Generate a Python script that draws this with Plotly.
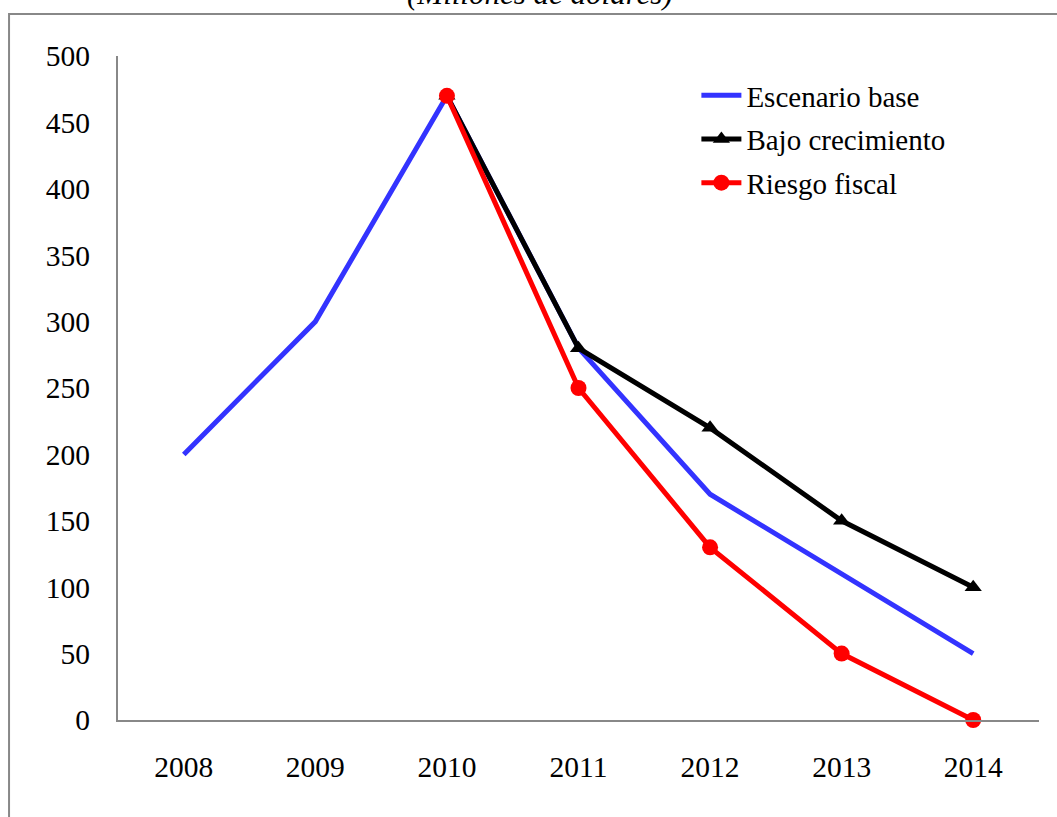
import plotly.graph_objects as go

years = ["2008", "2009", "2010", "2011", "2012", "2013", "2014"]
escenario_base = [200, 300, 470, 280, 170, 110, 50]
bajo_years = ["2010", "2011", "2012", "2013", "2014"]
bajo_crecimiento = [470, 280, 220, 150, 100]
riesgo_years = ["2010", "2011", "2012", "2013", "2014"]
riesgo_fiscal = [470, 250, 130, 50, 0]
y_ticks = [0, 50, 100, 150, 200, 250, 300, 350, 400, 450, 500]

FONT = "Liberation Serif, Times New Roman, serif"

fig = go.Figure()
fig.add_trace(go.Scatter(
    x=years, y=escenario_base, name="Escenario base", mode="lines",
    legendgroup="base",
    line=dict(color="#3333FF", width=5), cliponaxis=False))
fig.add_trace(go.Scatter(
    x=bajo_years, y=bajo_crecimiento, name="Bajo crecimiento", mode="lines+markers",
    legendgroup="bajo",
    line=dict(color="#000000", width=5),
    marker=dict(symbol="triangle-up", size=15, color="#000000"), cliponaxis=False))
fig.add_trace(go.Scatter(
    x=riesgo_years, y=riesgo_fiscal, name="Riesgo fiscal", mode="lines+markers",
    legendgroup="riesgo",
    line=dict(color="#FF0000", width=5),
    marker=dict(symbol="circle", size=16, color="#FF0000"), cliponaxis=False))

fig.update_layout(
    width=1057, height=817,
    margin=dict(l=118, r=18, t=56, b=97),
    paper_bgcolor="white", plot_bgcolor="white",
    font=dict(family=FONT, size=29.5, color="black"),
    showlegend=True,
    legend=dict(x=0.628, y=0.979, xanchor="left", yanchor="top",
                bgcolor="rgba(0,0,0,0)", font=dict(size=29),
                tracegroupgap=3, itemwidth=40),
    xaxis=dict(type="category", categoryorder="array", categoryarray=years,
               range=[-0.5, 6.5], showgrid=False, zeroline=False,
               showline=True, linecolor="#888888", linewidth=2,
               ticks="", ticklabelstandoff=20),
    yaxis=dict(range=[0, 500], tickvals=y_ticks, showgrid=False, zeroline=False,
               showline=True, linecolor="#888888", linewidth=2,
               ticks="", ticklabelstandoff=20),
    shapes=[dict(type="rect", xref="paper", yref="paper",
                 x0=-0.1183, x1=1.04, y0=-0.2, y1=1.0633,
                 line=dict(color="#888888", width=2), fillcolor="rgba(0,0,0,0)",
                 layer="below")],
    annotations=[dict(text="<i>(Millones de dólares)</i>", xref="paper", yref="paper",
                      x=0.458, y=1.0935, xanchor="center", yanchor="middle",
                      showarrow=False, font=dict(size=31))],
)

fig.write_html("out.html")
